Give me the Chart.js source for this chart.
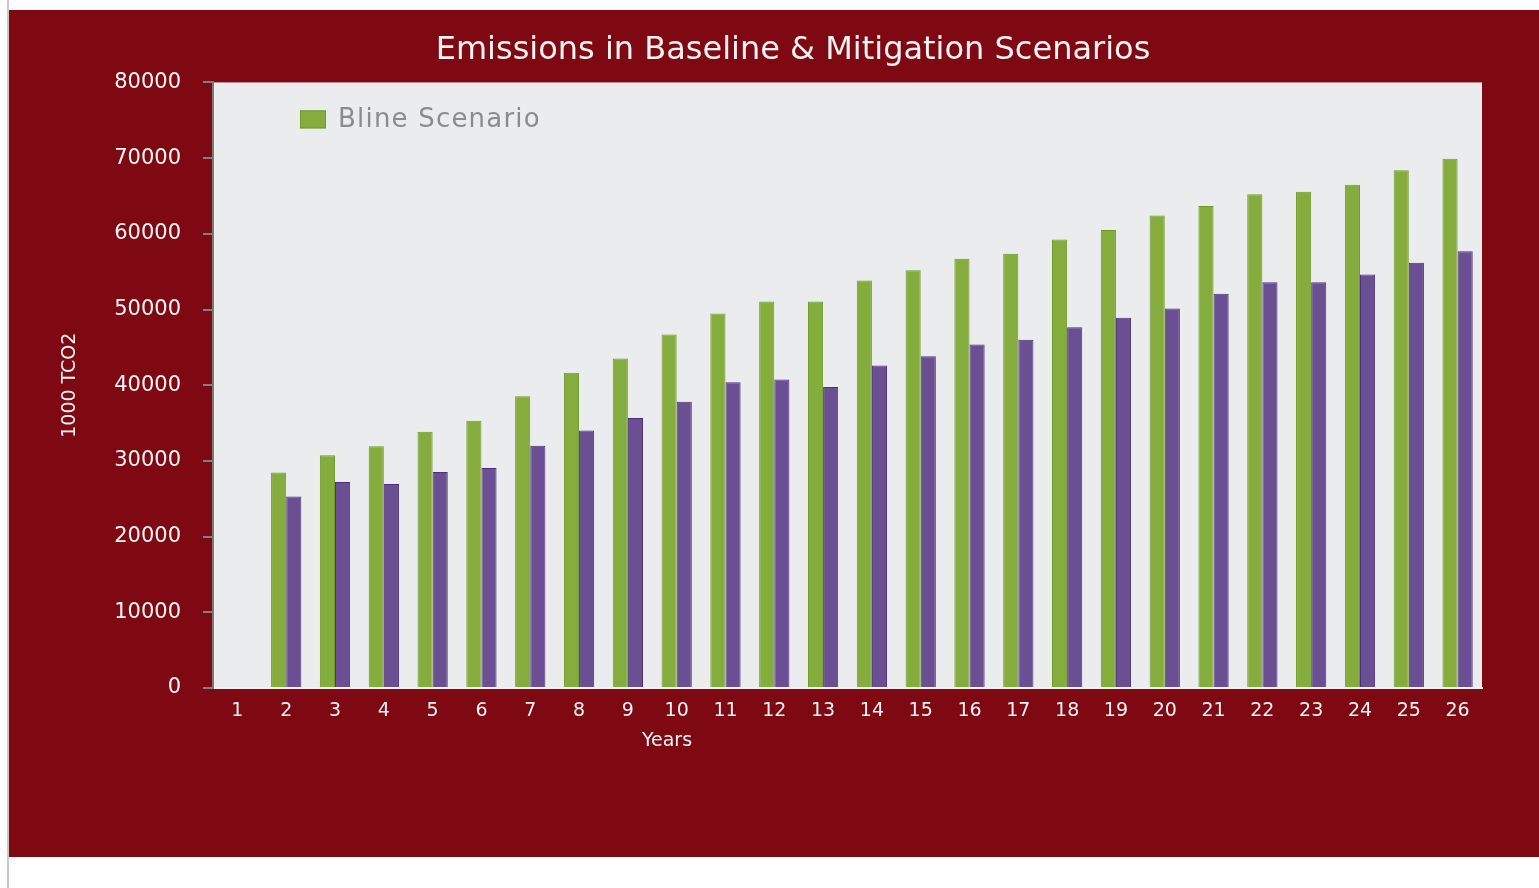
<!DOCTYPE html>
<html>
<head>
<meta charset="utf-8">
<script src="https://cdn.jsdelivr.net/npm/chart.js@4.4.1/dist/chart.umd.min.js"></script>
<style>
  html, body { margin: 0; padding: 0; background: #ffffff; }
  #wrap { width: 1539px; height: 888px; position: relative; }
</style>
</head>
<body>
<div id="wrap"><canvas id="c" width="1539" height="888"></canvas></div>
<script>
const chartTitle = 'Emissions in Baseline & Mitigation Scenarios';
const xTitle = 'Years';
const yTitle = '1000 TCO2';
const years = ['1','2','3','4','5','6','7','8','9','10','11','12','13','14','15','16','17','18','19','20','21','22','23','24','25','26'];
const baselineLabel = 'Bline Scenario';
const mitigationLabel = 'Mitigation Scenario';
const baseline = [null, 28480, 30730, 31920, 33860, 35300, 38550, 41630, 43520, 46690, 49470, 51060, 51060, 53840, 55200, 56700, 57370, 59260, 60490, 62430, 63670, 65210, 65570, 66490, 68390, 69930];
const mitigation = [null, 25300, 27200, 26940, 28530, 29060, 32010, 34030, 35670, 37830, 40390, 40740, 39770, 42590, 43830, 45370, 45990, 47660, 48900, 50130, 52070, 53610, 53610, 54630, 56170, 57710];
const yTicks = [0, 10000, 20000, 30000, 40000, 50000, 60000, 70000, 80000];

const FONT = "'DejaVu Sans', sans-serif";
const RED = '#7e0912';
const TEXT = '#f4f4f4';

const bgPlugin = {
  id: 'bg',
  beforeDraw(chart) {
    const ctx = chart.ctx;
    const a = chart.chartArea;
    ctx.save();
    ctx.fillStyle = '#ffffff';
    ctx.fillRect(0, 0, chart.width, chart.height);
    ctx.fillStyle = RED;
    ctx.fillRect(9, 10, chart.width - 9, 847);
    ctx.fillStyle = '#c9c9c9';
    ctx.fillRect(7, 0, 2, chart.height);
    ctx.fillStyle = '#ebeced';
    ctx.fillRect(a.left, a.top, a.right - a.left, a.bottom - a.top);
    ctx.restore();
  }
};

const extrasPlugin = {
  id: 'extras',
  afterDatasetsDraw(chart) {
    const ctx = chart.ctx;
    const a = chart.chartArea;
    const ds = chart.data.datasets[0];
    ctx.save();
    // legend inside plot area (only the baseline entry, as in the original)
    const bx = a.left + 87, by = a.top + 28;
    ctx.fillStyle = ds.backgroundColor;
    ctx.fillRect(bx, by, 26, 18);
    ctx.strokeStyle = ds.borderColor;
    ctx.lineWidth = 1;
    ctx.strokeRect(bx + 0.5, by + 0.5, 25, 17);
    ctx.fillStyle = '#8c8c8c';
    ctx.font = "26px " + FONT;
    try { ctx.letterSpacing = '1.2px'; } catch (e) {}
    ctx.textBaseline = 'middle';
    ctx.textAlign = 'left';
    ctx.fillText(ds.label, bx + 38, by + 10);
    try { ctx.letterSpacing = '0px'; } catch (e) {}
    // x axis title, placed left of centre like the original
    ctx.fillStyle = TEXT;
    ctx.font = "19px " + FONT;
    ctx.textAlign = 'center';
    ctx.fillText(xTitle, 667, 741);
    ctx.restore();
  }
};

new Chart(document.getElementById('c'), {
  type: 'bar',
  data: {
    labels: years,
    datasets: [
      {
        label: baselineLabel,
        data: baseline,
        backgroundColor: '#85ad3e',
        borderColor: '#6f9a28',
        borderWidth: 1,
        borderSkipped: 'bottom'
      },
      {
        label: mitigationLabel,
        data: mitigation,
        backgroundColor: '#6a4f93',
        borderColor: '#4e2f80',
        borderWidth: 1,
        borderSkipped: 'bottom'
      }
    ]
  },
  options: {
    responsive: false,
    animation: false,
    devicePixelRatio: 1,
    layout: { padding: { left: 104, right: 57, top: 0, bottom: 130 } },
    datasets: { bar: { categoryPercentage: 0.62, barPercentage: 1.0 } },
    plugins: {
      legend: { display: false },
      tooltip: { enabled: false },
      title: {
        display: true,
        text: chartTitle,
        color: '#f2f2f2',
        font: { family: FONT, size: 32, weight: 'normal' },
        padding: { top: 31, bottom: 13 }
      }
    },
    scales: {
      x: {
        grid: { display: false, drawTicks: false },
        border: { display: true, color: '#f2f2f2', width: 2 },
        ticks: { color: TEXT, font: { family: FONT, size: 19 }, padding: 12, maxRotation: 0, autoSkip: false },
        title: { display: false },
        afterFit(scale) { scale.height = 70; }
      },
      y: {
        min: 0,
        max: 80000,
        afterBuildTicks(scale) { scale.ticks = yTicks.map(v => ({ value: v })); },
        grid: { display: true, drawOnChartArea: false, drawTicks: true, tickLength: 10, color: '#808080', lineWidth: 2 },
        border: { display: true, color: '#7a7a7a', width: 2 },
        ticks: { color: TEXT, font: { family: FONT, size: 21 }, padding: 22, callback: v => String(v) },
        title: { display: true, text: yTitle, color: TEXT, font: { family: FONT, size: 19 }, padding: { top: -45, bottom: 0 } },
        afterFit(scale) { scale.width = 109; }
      }
    }
  },
  plugins: [bgPlugin, extrasPlugin]
});
</script>
</body>
</html>
